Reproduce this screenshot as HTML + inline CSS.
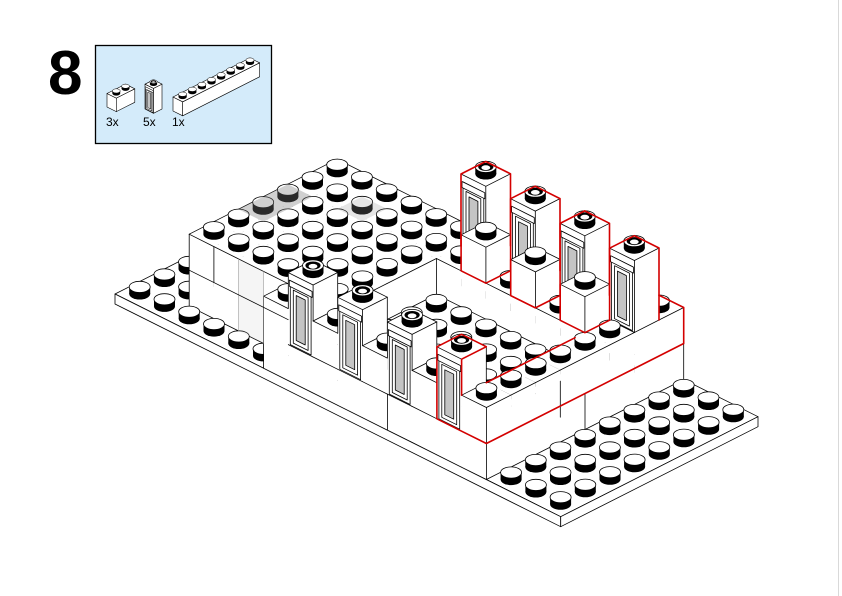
<!DOCTYPE html>
<html><head><meta charset="utf-8">
<style>
html,body{margin:0;padding:0;background:#fff;}
#wrap{position:relative;width:842px;height:596px;overflow:hidden;background:#fff}
svg{display:block}
</style></head>
<body><div id="wrap">
<svg id="s" width="842" height="596" viewBox="0 0 842 596" xmlns="http://www.w3.org/2000/svg">
<line x1="838.5" y1="0" x2="838.5" y2="596" stroke="#d9d9d9" stroke-width="1"/>
<text x="48" y="94" font-family="Liberation Sans, Arial, sans-serif" font-weight="bold" font-size="62" fill="#000">8</text>
<rect x="95.5" y="45.5" width="176" height="98" fill="#d4ebfa" stroke="#000" stroke-width="1.3"/>
<text x="106" y="126" font-family="Liberation Sans, Arial, sans-serif" font-size="12" fill="#000">3x</text>
<text x="143" y="126" font-family="Liberation Sans, Arial, sans-serif" font-size="12" fill="#000">5x</text>
<text x="172" y="126" font-family="Liberation Sans, Arial, sans-serif" font-size="12" fill="#000">1x</text>
<g id="g"></g>
</svg>
</div>
<script>
(function(){
const U=[24.76,12.37],V=[24.66,-12.5];
const M={x:115,y:294,k:1};
function P(a,b,z,o){o=o||M;return [o.x+o.k*(U[0]*a+V[0]*b),o.y+o.k*(U[1]*a+V[1]*b-z)];}
const out=[];const f=n=>n.toFixed(1);
function poly(pts,fill,stroke,sw,op){out.push('<polygon points="'+pts.map(p=>f(p[0])+','+f(p[1])).join(' ')+'" fill="'+fill+'" stroke="'+(stroke||'none')+'" stroke-width="'+(sw||0)+'" stroke-linejoin="round"'+(op?' fill-opacity="'+op+'"':'')+'/>');}
function line(p,q,c,w){out.push('<line x1="'+f(p[0])+'" y1="'+f(p[1])+'" x2="'+f(q[0])+'" y2="'+f(q[1])+'" stroke="'+(c||'#000')+'" stroke-width="'+(w||0.8)+'" stroke-linecap="round"/>');}
function pl(pts,c,w){out.push('<polyline points="'+pts.map(p=>f(p[0])+','+f(p[1])).join(' ')+'" fill="none" stroke="'+c+'" stroke-width="'+w+'" stroke-linejoin="round" stroke-linecap="round"/>');}
function stud(a,b,z,type,o){o=o||M;const c=P(a+.5,b+.5,z,o);const k=o.k;const rx=10.5*k,ry=5.6*k,h=7*k;
 out.push('<ellipse cx="'+f(c[0])+'" cy="'+f(c[1])+'" rx="'+f(rx)+'" ry="'+f(ry)+'" fill="#000"/>');
 out.push('<rect x="'+f(c[0]-rx)+'" y="'+f(c[1]-h)+'" width="'+f(2*rx)+'" height="'+f(h)+'" fill="#000"/>');
 out.push('<ellipse cx="'+f(c[0])+'" cy="'+f(c[1]-h)+'" rx="'+f(rx)+'" ry="'+f(ry)+'" fill="#fff" stroke="#000" stroke-width="'+f(0.8*Math.max(k,0.6))+'"/>');
 if(type==='h'){out.push('<ellipse cx="'+f(c[0])+'" cy="'+f(c[1]-h)+'" rx="'+f(rx*.72)+'" ry="'+f(ry*.72)+'" fill="#000"/>');
  out.push('<ellipse cx="'+f(c[0])+'" cy="'+f(c[1]-h+0.8*k)+'" rx="'+f(rx*.42)+'" ry="'+f(ry*.42)+'" fill="#fff"/>');}
}
function wq(a,b,x0,x1,za,zb,o){return [P(a+x0,b,za,o),P(a+x1,b,za,o),P(a+x1,b,zb,o),P(a+x0,b,zb,o)];}
function windowFace(a,b,z0,z1,o){const sw=o?0.5:0.8;
 poly(wq(a,b,.08,.92,z0+1,z1-7,o),'#fff','#000',sw);
 poly(wq(a,b,.04,.96,z1-13,z1-7,o),'#fff','#000',sw);
 poly(wq(a,b,.2,.8,z0+4,z1-15,o),'#fff','#000',sw);
 poly(wq(a,b,.32,.68,z0+8,z1-19,o),'#c4c4c4','#000',sw);
}
const A=18,B=8;const cells=[];
for(let a=0;a<A;a++){cells.push([]);for(let b=0;b<B;b++)cells[a].push([]);}
function addBox(a0,a1,b0,b1,z0,z1,opt){for(let a=a0;a<a1;a++)for(let b=b0;b<b1;b++){cells[a][b].push(Object.assign({z0:z0,z1:z1},opt||{}));}}
addBox(2,8,1,7,0,72);
addBox(8,14,5,7,0,72);
addBox(8,14,1,5,0,36);
addBox(6,7,0,1,0,72);
addBox(7,14,0,1,0,36);
[7,9,11,13].forEach(a=>addBox(a,a+1,0,1,36,108,{win:1,stud:'h'}));
[8,10,12].forEach(a=>addBox(a,a+1,0,1,36,72));
addBox(14,15,0,8,0,36);
addBox(14,15,0,8,36,72);
[8,10,12,14].forEach(a=>addBox(a,a+1,6,7,72,144,{win:1,stud:'h'}));
[9,11,13].forEach(a=>addBox(a,a+1,5,6,72,108));
function topAt(a,b){if(a<0||a>=A||b<0||b>=B)return -20;const s=cells[a][b];if(!s.length)return 0;return Math.max.apply(null,s.map(x=>x.z1));}
function vl(a,b,lo,hi){if(hi>lo+0.5)line(P(a,b,lo),P(a,b,hi));}
poly([P(0,0,0),P(18,0,0),P(18,8,0),P(0,8,0)],'#fff','#000',0.8);
poly([P(0,0,-10),P(18,0,-10),P(18,0,0),P(0,0,0)],'#fff','#000',0.8);
poly([P(18,0,-10),P(18,8,-10),P(18,8,0),P(18,0,0)],'#fff','#000',0.8);
function drawCell(a,b){const segs=cells[a][b];
 if(!segs.length){stud(a,b,0,'s');return;}
 segs.sort((x,y)=>x.z0-y.z0);
 const T=topAt(a,b),tL=topAt(a,b-1),tR=topAt(a+1,b),tLL=topAt(a-1,b),tLLf=topAt(a-1,b-1),tB=topAt(a,b+1),tBR=topAt(a+1,b+1);
 segs.forEach((s,i)=>{const z0=s.z0,z1=s.z1;const Lv=tL<z1,Rv=tR<z1;
  if(Lv){poly([P(a,b,z0),P(a+1,b,z0),P(a+1,b,z1),P(a,b,z1)],'#fff');
   if(s.win)windowFace(a,b,z0,z1);
   line(P(a,b,z0),P(a+1,b,z0));
   vl(a,b,Math.max(z0,tLL),z1);vl(a,b,z0,Math.min(z1,tLLf));}
  if(Rv){poly([P(a+1,b,z0),P(a+1,b+1,z0),P(a+1,b+1,z1),P(a+1,b,z1)],'#fff');
   line(P(a+1,b,z0),P(a+1,b+1,z0));
   vl(a+1,b+1,Math.max(z0,tB),z1);vl(a+1,b+1,z0,Math.min(z1,tBR));}
  if(Lv||Rv)vl(a+1,b,Math.max(z0,tL,tR),z1);
  if(i===segs.length-1){
   poly([P(a,b,z1),P(a+1,b,z1),P(a+1,b+1,z1),P(a,b+1,z1)],'#fff');
   if(tL!==T)line(P(a,b,z1),P(a+1,b,z1));
   if(tR!==T)line(P(a+1,b,z1),P(a+1,b+1,z1));
   if(tB!==T)line(P(a,b+1,z1),P(a+1,b+1,z1));
   if(tLL!==T)line(P(a,b,z1),P(a,b+1,z1));
   stud(a,b,z1,s.stud||'s');
  }
 });
}
const order=[];for(let a=0;a<A;a++)for(let b=0;b<B;b++)order.push([a,b]);
order.sort((p,q)=>((p[0]-p[1])-(q[0]-q[1]))||(p[0]-q[0]));
order.forEach(c=>drawCell(c[0],c[1]));
// ghost / transparent pieces
poly([P(2,3,72),P(3,3,72),P(3,5,72),P(2,5,72)],'#777',null,0,0.35);
poly([P(4,5,72),P(5,5,72),P(5,6,72),P(4,6,72)],'#999',null,0,0.25);
poly([P(4,1,0),P(5,1,0),P(5,1,72),P(4,1,72)],'#bbb',null,0,0.15);
line(P(4,1,0),P(4,1,72),'#999',0.6);line(P(5,1,0),P(5,1,72),'#999',0.6);
// seams
line(P(2,1,36),P(6,1,36));
line(P(3,1,36),P(3,1,72));
line(P(14,4,0),P(14,4,36));
line(P(15,4,0),P(15,4,36));
line(P(11,0,0),P(11,0,36));
// red outlines
const R='#d40000',RW=1.6;
pl([P(13,0,108),P(13,0,36),P(14,0,36),P(15,0,36),P(15,8,36),P(15,8,72),P(14,8,72)],R,RW);
pl([P(14,0,72),P(14,0,108)],R,RW);
pl([P(14,0,108),P(14,1,108),P(13,1,108),P(13,0,108)],R,RW);
pl([P(14,1,72),P(14,4.6,72)],R,RW);
[8,10,12,14].forEach(a=>{pl([P(a,6,72),P(a,6,144),P(a,7,144),P(a+1,7,144),P(a+1,7,72)],R,RW);});
[9,11,13].forEach(a=>{pl([P(a,5,108),P(a,5,72),P(a+1,5,72),P(a+1,6,72)],R,RW);});
function box(o,a0,a1,b0,b1,z0,z1){
 poly([P(a0,b0,z0,o),P(a1,b0,z0,o),P(a1,b0,z1,o),P(a0,b0,z1,o)],'#fff','#000',0.6);
 poly([P(a1,b0,z0,o),P(a1,b1,z0,o),P(a1,b1,z1,o),P(a1,b0,z1,o)],'#fff','#000',0.6);
 poly([P(a0,b0,z1,o),P(a1,b0,z1,o),P(a1,b1,z1,o),P(a0,b1,z1,o)],'#fff','#000',0.6);
}
let o={x:107,y:107,k:0.375};box(o,0,1,0,2,0,36);stud(0,1,36,'s',o);stud(0,0,36,'s',o);
o={x:145,y:109,k:0.345};box(o,0,1,0,1,0,72);windowFace(0,0,0,72,o);stud(0,0,72,'h',o);
o={x:173,y:111,k:0.39};box(o,0,1,0,8,0,36);for(let b=7;b>=0;b--)stud(0,b,36,'s',o);
document.getElementById('g').innerHTML=out.join('');
})();
</script>
</body></html>
